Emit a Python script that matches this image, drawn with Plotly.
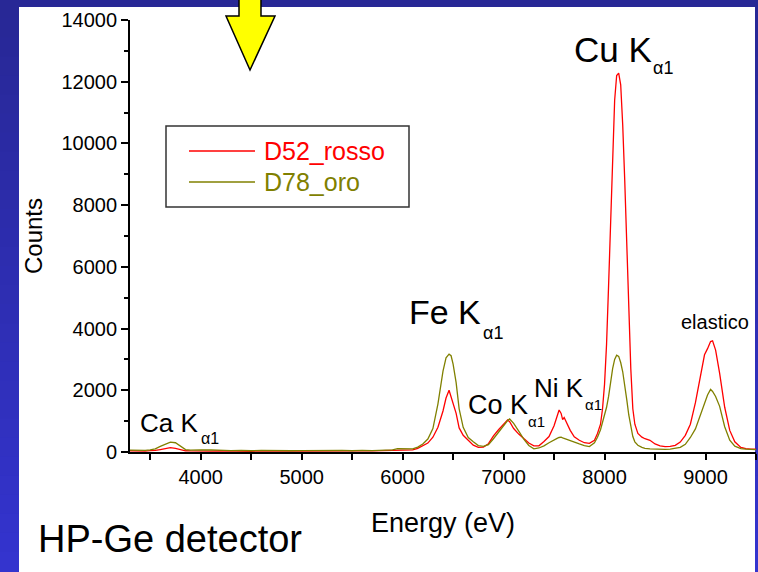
import plotly.graph_objects as go

# ---------------- data ----------------
energy_eV = [3300, 3350, 3400, 3450, 3500, 3550, 3600, 3650, 3700, 3750, 3800, 3850, 3900, 3950,
             4000, 4100, 4200, 4300, 4400, 4500, 4600, 4700, 4800, 4900, 5000, 5100, 5200, 5300,
             5400, 5500, 5600, 5700, 5800, 5900, 5950, 6000, 6050, 6100, 6150, 6200, 6250, 6300,
             6350, 6400, 6430, 6460, 6480, 6500, 6530, 6560, 6600, 6650, 6700, 6750, 6800, 6850,
             6900, 6950, 7000, 7040, 7060, 7100, 7150, 7200, 7250, 7300, 7350, 7400, 7450, 7500,
             7530, 7550, 7570, 7585, 7600, 7630, 7660, 7700, 7750, 7800, 7850, 7900, 7930, 7960,
             7980, 8000, 8020, 8040, 8060, 8080, 8100, 8120, 8140, 8160, 8180, 8200, 8220, 8240,
             8260, 8280, 8300, 8330, 8370, 8400, 8450, 8500, 8550, 8600, 8650, 8700, 8750, 8800,
             8850, 8900, 8950, 8990, 9020, 9050, 9070, 9100, 9140, 9190, 9240, 9290, 9350, 9400,
             9450, 9500]

d52_rosso = [40, 35, 40, 30, 45, 50, 80, 120, 140, 120, 70, 40, 35, 30,
             35, 30, 40, 30, 35, 25, 40, 30, 35, 30, 30, 35, 30, 40,
             35, 45, 40, 35, 45, 55, 70, 65, 60, 70, 120, 200, 290, 480,
             800, 1330, 1750, 2000, 1800, 1600, 1250, 780, 540, 380, 220, 150, 160, 270,
             520, 720, 900, 1040, 980, 760, 580, 420, 290, 200, 200, 340, 500, 850,
             1150, 1360, 1250, 1050, 1120, 900, 700, 490, 380, 300, 280, 380, 600, 900,
             1400, 2200, 3500, 5400, 7600, 9700, 11400, 12200, 12280, 11900, 10600, 8800, 6800, 4600,
             2700, 1400, 900, 600, 480, 430, 380, 260, 200, 175, 180, 215, 320, 540,
             900, 1600, 2450, 3150, 3350, 3580, 3600, 3300, 2550, 1450, 700, 330, 150, 110,
             95, 90]

d78_oro = [60, 55, 50, 55, 70, 100, 180, 260, 320, 300, 180, 80, 60, 55,
           65, 70, 55, 45, 50, 40, 55, 45, 50, 40, 45, 50, 40, 45,
           50, 40, 55, 45, 60, 70, 110, 100, 90, 100, 160, 260, 420, 760,
           1560, 2620, 3050, 3170, 3120, 2850, 2250, 1400, 800, 470, 330, 210, 180, 240,
           430, 650, 880, 1020, 1070, 930, 680, 420, 210, 100, 130, 200, 300, 400,
           440, 470, 480, 460, 440, 410, 380, 320, 260, 210, 175, 300, 480, 720,
           950, 1150, 1450, 1800, 2300, 2700, 3000, 3140, 3100, 2900, 2600, 2200, 1700, 1200,
           800, 500, 330, 220, 150, 120, 100, 90, 85, 85, 90, 110, 150, 250,
           470, 750, 1200, 1630, 1850, 2030, 1960, 1800, 1480, 820, 380, 190, 110, 95,
           85, 80]

series_names = ["D52_rosso", "D78_oro"]
series_colors = ["#ff0000", "#808000"]
x_tick_vals = [4000, 5000, 6000, 7000, 8000, 9000]
x_tick_text = ["4000", "5000", "6000", "7000", "8000", "9000"]
y_tick_vals = [0, 2000, 4000, 6000, 8000, 10000, 12000, 14000]
y_tick_text = ["0", "2000", "4000", "6000", "8000", "10000", "12000", "14000"]

# ---------------- geometry helpers (pixel -> paper) ----------------
W, H = 758, 572
L, R, T, B = 130, 2, 20, 120
PW, PH = W - L - R, H - T - B


def px(x):
    return (x - L) / PW


def py(y):
    return (H - B - y) / PH


FONT = "Arial, Liberation Sans, Arimo, sans-serif"

fig = go.Figure()
for name, vals, col in zip(series_names, [d52_rosso, d78_oro], series_colors):
    fig.add_trace(go.Scatter(x=energy_eV, y=vals, mode="lines", name=name,
                             line=dict(color=col, width=1.3), showlegend=False))

shapes = []
# blue gradient background
nb = 30
c0, c1 = (40, 40, 150), (52, 52, 206)
for i in range(nb):
    f = i / (nb - 1)
    col = "rgb(%d,%d,%d)" % tuple(int(a + (b - a) * f) for a, b in zip(c0, c1))
    shapes.append(dict(type="rect", xref="paper", yref="paper", layer="below",
                       x0=px(-2), x1=px(W + 2), y0=py(i * H / nb - 1), y1=py((i + 1) * H / nb + 1),
                       fillcolor=col, line=dict(width=0)))
# white panel
shapes.append(dict(type="rect", xref="paper", yref="paper", layer="below",
                   x0=px(19), x1=px(755), y0=py(7), y1=py(H + 2),
                   fillcolor="white", line=dict(width=0)))
# yellow arrow
pts = [(239, -2), (261, -2), (261, 16), (275, 16), (250, 70), (226, 16), (239, 16)]
path = "M " + " L ".join("%f,%f" % (px(a), py(b)) for a, b in pts) + " Z"
shapes.append(dict(type="path", xref="paper", yref="paper", path=path,
                   fillcolor="#ffff00", line=dict(color="black", width=1.5), layer="above"))
# legend box + line samples
shapes.append(dict(type="rect", xref="paper", yref="paper", x0=px(166), x1=px(409),
                   y0=py(126), y1=py(207), line=dict(color="#333333", width=1.5),
                   fillcolor="white", layer="above"))
for yy, col in zip([151, 182], series_colors):
    shapes.append(dict(type="line", xref="paper", yref="paper", x0=px(189), x1=px(255),
                       y0=py(yy), y1=py(yy), line=dict(color=col, width=1.3), layer="above"))

annotations = []


def label(text, x, y, size, color="black", anchor="left"):
    annotations.append(dict(text=text, xref="paper", yref="paper", x=px(x), y=py(y),
                            xanchor=anchor, yanchor="middle", showarrow=False,
                            font=dict(family=FONT, size=size, color=color)))


for yy, name, col in zip([151, 182], series_names, series_colors):
    label(name, 262, yy, 25, col)

label("Cu K", 572, 50, 35)
label("α1", 651, 68, 18)
label("Fe K", 407, 312, 34)
label("α1", 481, 333, 18)
label("Co K", 466, 405, 27)
label("α1", 526, 421, 15)
label("Ni K", 532, 388, 26)
label("α1", 583, 404, 15)
label("Ca K", 138, 423, 26)
label("α1", 199, 438, 16)
label("elastico", 751, 322, 20, anchor="right")
label("HP-Ge detector", 36, 539, 38)

fig.update_layout(
    width=W, height=H,
    margin=dict(l=L, r=R, t=T, b=B, pad=0),
    paper_bgcolor="#3030b0",
    plot_bgcolor="rgba(0,0,0,0)",
    font=dict(family=FONT, color="black"),
    shapes=shapes,
    annotations=annotations,
    showlegend=False,
    xaxis=dict(range=[3300, 9500], tickvals=x_tick_vals, ticktext=x_tick_text,
               ticks="outside", ticklen=6, automargin=False,
               tickwidth=1.5, tickcolor="black", showline=True, linecolor="black",
               linewidth=1.8, showgrid=False, zeroline=False,
               tickfont=dict(family=FONT, size=20, color="black"),
               minor=dict(dtick=500, tick0=3500, ticks="outside", ticklen=6, tickwidth=1.5,
                          tickcolor="black", showgrid=False),
               title=dict(text="Energy (eV)", font=dict(family=FONT, size=27, color="black"),
                          standoff=26)),
    yaxis=dict(range=[0, 14000], tickvals=y_tick_vals, ticktext=y_tick_text,
               ticks="outside", ticklen=7, automargin=False,
               tickwidth=1.5, tickcolor="black", showline=True, linecolor="black",
               linewidth=1.8, showgrid=False, zeroline=False,
               tickfont=dict(family=FONT, size=20, color="black"),
               minor=dict(dtick=1000, ticks="outside", ticklen=4, tickwidth=1.5,
                          tickcolor="black", showgrid=False),
               title=dict(text="Counts", font=dict(family=FONT, size=24, color="black"),
                          standoff=12)),
)

fig.write_html("out.html", config={"displayModeBar": False},
               post_script="document.body.style.margin='0';document.body.style.overflow='hidden';")
